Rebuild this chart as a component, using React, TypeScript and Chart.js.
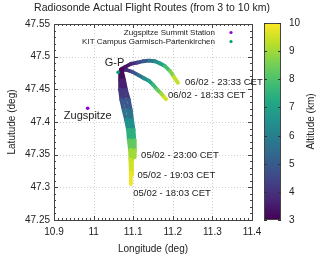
import React, { useEffect, useRef } from "react";
import { Chart, registerables } from "chart.js";
Chart.register(...registerables);

const TITLE = "Radiosonde Actual Flight Routes (from 3 to 10 km)";
const X_TITLE = "Longitude (deg)";
const Y_TITLE = "Latutude (deg)";
const CB_TITLE = "Altitude (km)";
const ALT_MIN = 3;
const ALT_MAX = 10;
const CB_TICKS = [3, 4, 5, 6, 7, 8, 9, 10];

// 06/02 - 23:33 CET
const fA_lon = [11.069, 11.079, 11.094, 11.110, 11.125, 11.140, 11.155, 11.168, 11.180, 11.193, 11.203, 11.213];
const fA_lat = [47.481, 47.484, 47.489, 47.491, 47.493, 47.494, 47.493, 47.4895, 47.4857, 47.478, 47.4688, 47.460];
const fA_alt = [3.0, 3.2, 3.6, 4.1, 4.7, 5.3, 6.0, 6.7, 7.4, 8.3, 9.0, 9.8];
// 06/02 - 18:33 CET
const fB_lon = [11.069, 11.082, 11.097, 11.112, 11.127, 11.140, 11.150, 11.160, 11.170, 11.178, 11.183];
const fB_lat = [47.480, 47.480, 47.477, 47.472, 47.467, 47.463, 47.457, 47.450, 47.444, 47.438, 47.435];
const fB_alt = [3.0, 3.5, 4.3, 5.2, 6.0, 6.8, 7.4, 8.0, 8.7, 9.3, 9.8];
// 05/02 - 18:03 CET
const fC_lon = [11.067, 11.067, 11.067, 11.070, 11.076, 11.082, 11.087, 11.089, 11.092, 11.093, 11.094, 11.094];
const fC_lat = [47.477, 47.464, 47.449, 47.434, 47.418, 47.403, 47.388, 47.372, 47.357, 47.342, 47.323, 47.305];
const fC_alt = [3.0, 3.4, 3.8, 4.5, 5.3, 6.0, 7.0, 7.9, 8.7, 9.3, 9.7, 10.0];
// 05/02 - 19:03 CET
const fD_lon = [11.069, 11.072, 11.074, 11.079, 11.086, 11.091, 11.094, 11.095, 11.097, 11.097, 11.097];
const fD_lat = [47.477, 47.464, 47.449, 47.434, 47.418, 47.403, 47.388, 47.372, 47.357, 47.339, 47.319];
const fD_alt = [3.0, 3.4, 3.8, 4.5, 5.3, 6.0, 7.0, 7.9, 8.7, 9.4, 9.9];
// 05/02 - 23:00 CET
const fE_lon = [11.072, 11.077, 11.082, 11.089, 11.094, 11.097, 11.101, 11.103, 11.104, 11.104];
const fE_lat = [47.477, 47.464, 47.449, 47.434, 47.418, 47.403, 47.388, 47.372, 47.357, 47.346];
const fE_alt = [3.0, 3.4, 3.8, 4.5, 5.3, 6.0, 7.0, 7.9, 8.7, 9.3];

const FLIGHTS = [
  { lon: fA_lon, lat: fA_lat, alt: fA_alt },
  { lon: fB_lon, lat: fB_lat, alt: fB_alt },
  { lon: fC_lon, lat: fC_lat, alt: fC_alt },
  { lon: fD_lon, lat: fD_lat, alt: fD_alt },
  { lon: fE_lon, lat: fE_lat, alt: fE_alt },
];

// Stations
const STATION_NAMES = ["Zugspitze Summit Station", "KIT Campus Garmisch-Partenkirchen"];
const STATION_LON = [10.985, 11.062];
const STATION_LAT = [47.421, 47.476];
const STATION_COLORS = ["#9400d3", "#009e73"];

// Annotations
const NOTE_TEXT = ["G-P", "Zugspitze", "06/02 - 23:33 CET", "06/02 - 18:33 CET", "05/02 - 23:00 CET", "05/02 - 19:03 CET", "05/02 - 18:03 CET"];
const NOTE_LON = [11.053, 10.985, 11.231, 11.188, 11.120, 11.111, 11.100];
const NOTE_LAT = [47.490, 47.409, 47.460, 47.441, 47.349, 47.319, 47.290];
const NOTE_ALIGN = ["center", "center", "left", "left", "left", "left", "left"];

const VIRIDIS = ["#440154", "#482475", "#414487", "#355f8d", "#2a788e", "#21918c", "#22a884", "#44bf70", "#7ad151", "#bddf26", "#fde725"];

function hexRgb(h: string) {
  return [parseInt(h.slice(1, 3), 16), parseInt(h.slice(3, 5), 16), parseInt(h.slice(5, 7), 16)];
}
function viridis(t: number) {
  t = Math.max(0, Math.min(1, t));
  const p = t * (VIRIDIS.length - 1);
  const i = Math.min(VIRIDIS.length - 2, Math.floor(p));
  const f = p - i;
  const a = hexRgb(VIRIDIS[i]);
  const b = hexRgb(VIRIDIS[i + 1]);
  const c = a.map((v, k) => Math.round(v + (b[k] - v) * f));
  return `rgb(${c[0]},${c[1]},${c[2]})`;
}
const altColor = (a: number) => viridis((a - ALT_MIN) / (ALT_MAX - ALT_MIN));

const FONT = "'Liberation Sans', Arial, sans-serif";
const TXT = "#222";

const decor = {
  id: "decor",
  beforeDatasetsDraw(chart: any) {
    const { ctx, chartArea: a, scales } = chart;
    const x = scales.x, y = scales.y;
    ctx.save();
    ctx.strokeStyle = "#cfcfcf";
    ctx.lineWidth = 1;
    ctx.setLineDash([1, 2]);
    for (const t of x.ticks) {
      const px = Math.round(x.getPixelForValue(t.value)) + 0.5;
      ctx.beginPath(); ctx.moveTo(px, a.top); ctx.lineTo(px, a.bottom); ctx.stroke();
    }
    for (const t of y.ticks) {
      const py = Math.round(y.getPixelForValue(t.value)) + 0.5;
      ctx.beginPath(); ctx.moveTo(a.left, py); ctx.lineTo(a.right, py); ctx.stroke();
    }
    ctx.restore();
  },
  afterDatasetsDraw(chart: any) {
    const { ctx, chartArea: a, scales } = chart;
    const x = scales.x, y = scales.y;
    ctx.save();
    // frame
    ctx.strokeStyle = "#444";
    ctx.lineWidth = 1;
    ctx.strokeRect(Math.round(a.left) + 0.5, Math.round(a.top) + 0.5, Math.round(a.right - a.left), Math.round(a.bottom - a.top));
    // minor / major ticks
    for (let i = 0; i <= 50; i++) {
      const v = x.min + i * 0.01;
      const px = Math.round(x.getPixelForValue(v)) + 0.5;
      const len = i % 10 === 0 ? 4 : 2;
      ctx.beginPath();
      ctx.moveTo(px, a.bottom); ctx.lineTo(px, a.bottom - len);
      ctx.moveTo(px, a.top); ctx.lineTo(px, a.top + len);
      ctx.stroke();
    }
    for (let i = 0; i <= 30; i++) {
      const v = y.min + i * 0.01;
      const py = Math.round(y.getPixelForValue(v)) + 0.5;
      const len = i % 5 === 0 ? 4 : 2;
      ctx.beginPath();
      ctx.moveTo(a.left, py); ctx.lineTo(a.left + len, py);
      ctx.moveTo(a.right, py); ctx.lineTo(a.right - len, py);
      ctx.stroke();
    }
    // legend
    ctx.font = `8px ${FONT}`;
    ctx.textAlign = "right";
    ctx.textBaseline = "middle";
    STATION_NAMES.forEach((n, i) => {
      const ly = a.top + 8.5 + i * 9;
      ctx.fillStyle = TXT;
      ctx.fillText(n, a.right - 37, ly);
      ctx.fillStyle = STATION_COLORS[i];
      ctx.beginPath(); ctx.arc(a.right - 21, ly, 1.6, 0, Math.PI * 2); ctx.fill();
    });
    // annotations
    ctx.fillStyle = TXT;
    ctx.textBaseline = "middle";
    NOTE_TEXT.forEach((t, i) => {
      ctx.textAlign = NOTE_ALIGN[i] as CanvasTextAlign;
      const fs = i < 2 ? 11 : 9.5;
      ctx.font = `${fs}px ${FONT}`;
      ctx.fillText(t, x.getPixelForValue(NOTE_LON[i]), y.getPixelForValue(NOTE_LAT[i]));
    });
    // colour bar
    const cbL = a.right + 12, cbR = a.right + 29;
    const cbT = a.top - 1, cbB = a.bottom;
    const g = ctx.createLinearGradient(0, cbB, 0, cbT);
    VIRIDIS.forEach((c, i) => g.addColorStop(i / (VIRIDIS.length - 1), c));
    ctx.fillStyle = g;
    ctx.fillRect(cbL, cbT, cbR - cbL, cbB - cbT);
    ctx.strokeStyle = "#444";
    ctx.strokeRect(cbL + 0.5, cbT + 0.5, cbR - cbL - 1, cbB - cbT - 1);
    ctx.font = `10px ${FONT}`;
    ctx.textAlign = "left";
    ctx.textBaseline = "middle";
    CB_TICKS.forEach((v) => {
      const py = Math.round(cbB - ((v - ALT_MIN) / (ALT_MAX - ALT_MIN)) * (cbB - cbT)) + 0.5;
      ctx.strokeStyle = "#333";
      ctx.beginPath();
      ctx.moveTo(cbL, py); ctx.lineTo(cbL + 3, py);
      ctx.moveTo(cbR, py); ctx.lineTo(cbR - 3, py);
      ctx.stroke();
      ctx.fillStyle = TXT;
      ctx.fillText(String(v), cbR + 8, py);
    });
    // titles
    ctx.fillStyle = TXT;
    ctx.textAlign = "center";
    ctx.font = `10.5px ${FONT}`;
    ctx.fillText(TITLE, 152, 8.5);
    ctx.font = `10px ${FONT}`;
    ctx.fillText(X_TITLE, (a.left + a.right) / 2, 249);
    ctx.save();
    ctx.translate(12, (a.top + a.bottom) / 2);
    ctx.rotate(-Math.PI / 2);
    ctx.fillText(Y_TITLE, 0, 0);
    ctx.restore();
    ctx.save();
    ctx.translate(311, (cbT + cbB) / 2);
    ctx.rotate(-Math.PI / 2);
    ctx.fillText(CB_TITLE, 0, 0);
    ctx.restore();
    ctx.restore();
  },
};

export default function App() {
  const ref = useRef<HTMLCanvasElement>(null);
  useEffect(() => {
    document.body.style.margin = "0";
    Chart.defaults.font.family = FONT;
    const datasets: any[] = STATION_NAMES.map((n, i) => ({
      type: "scatter",
      label: n,
      data: [{ x: STATION_LON[i], y: STATION_LAT[i] }],
      pointRadius: 1.8,
      pointBackgroundColor: STATION_COLORS[i],
      pointBorderWidth: 0,
    }));
    FLIGHTS.forEach((f, k) => {
      datasets.push({
        type: "scatter",
        label: "flight" + k,
        data: f.lon.map((lon, i) => ({ x: lon, y: f.lat[i] })),
        showLine: true,
        pointRadius: 0,
        borderWidth: 3.8,
        borderCapStyle: "round",
        borderJoinStyle: "round",
        borderColor: altColor(f.alt[0]),
        segment: {
          borderColor: (c: any) => altColor((f.alt[c.p0DataIndex] + f.alt[c.p1DataIndex]) / 2),
        },
      });
    });
    const chart = new Chart(ref.current!, {
      type: "scatter",
      data: { datasets },
      options: {
        animation: false,
        responsive: false,
        layout: { padding: { top: 24, right: 68, left: 0, bottom: 0 } },
        plugins: { legend: { display: false }, tooltip: { enabled: false } },
        scales: {
          x: {
            type: "linear",
            min: 10.9,
            max: 11.4,
            grid: { display: false, drawTicks: false },
            border: { display: false },
            ticks: {
              stepSize: 0.1,
              padding: 6,
              maxRotation: 0,
              autoSkip: false,
              color: TXT,
              font: { size: 10, family: FONT },
              callback: (v: any) => String(Math.round(v * 100) / 100),
            },
            afterFit: (s: any) => { s.height = 38; },
          },
          y: {
            type: "linear",
            min: 47.25,
            max: 47.55,
            grid: { display: false, drawTicks: false },
            border: { display: false },
            ticks: {
              stepSize: 0.05,
              padding: 4,
              autoSkip: false,
              color: TXT,
              font: { size: 10, family: FONT },
              callback: (v: any) => String(Math.round(v * 100) / 100),
            },
            afterFit: (s: any) => { s.width = 54; },
          },
        },
      },
      plugins: [decor],
    });
    return () => chart.destroy();
  }, []);
  return (
    <div style={{ position: "absolute", left: 0, top: 0, width: 320, height: 258, background: "#fff" }}>
      <canvas ref={ref} width={320} height={258} />
    </div>
  );
}
